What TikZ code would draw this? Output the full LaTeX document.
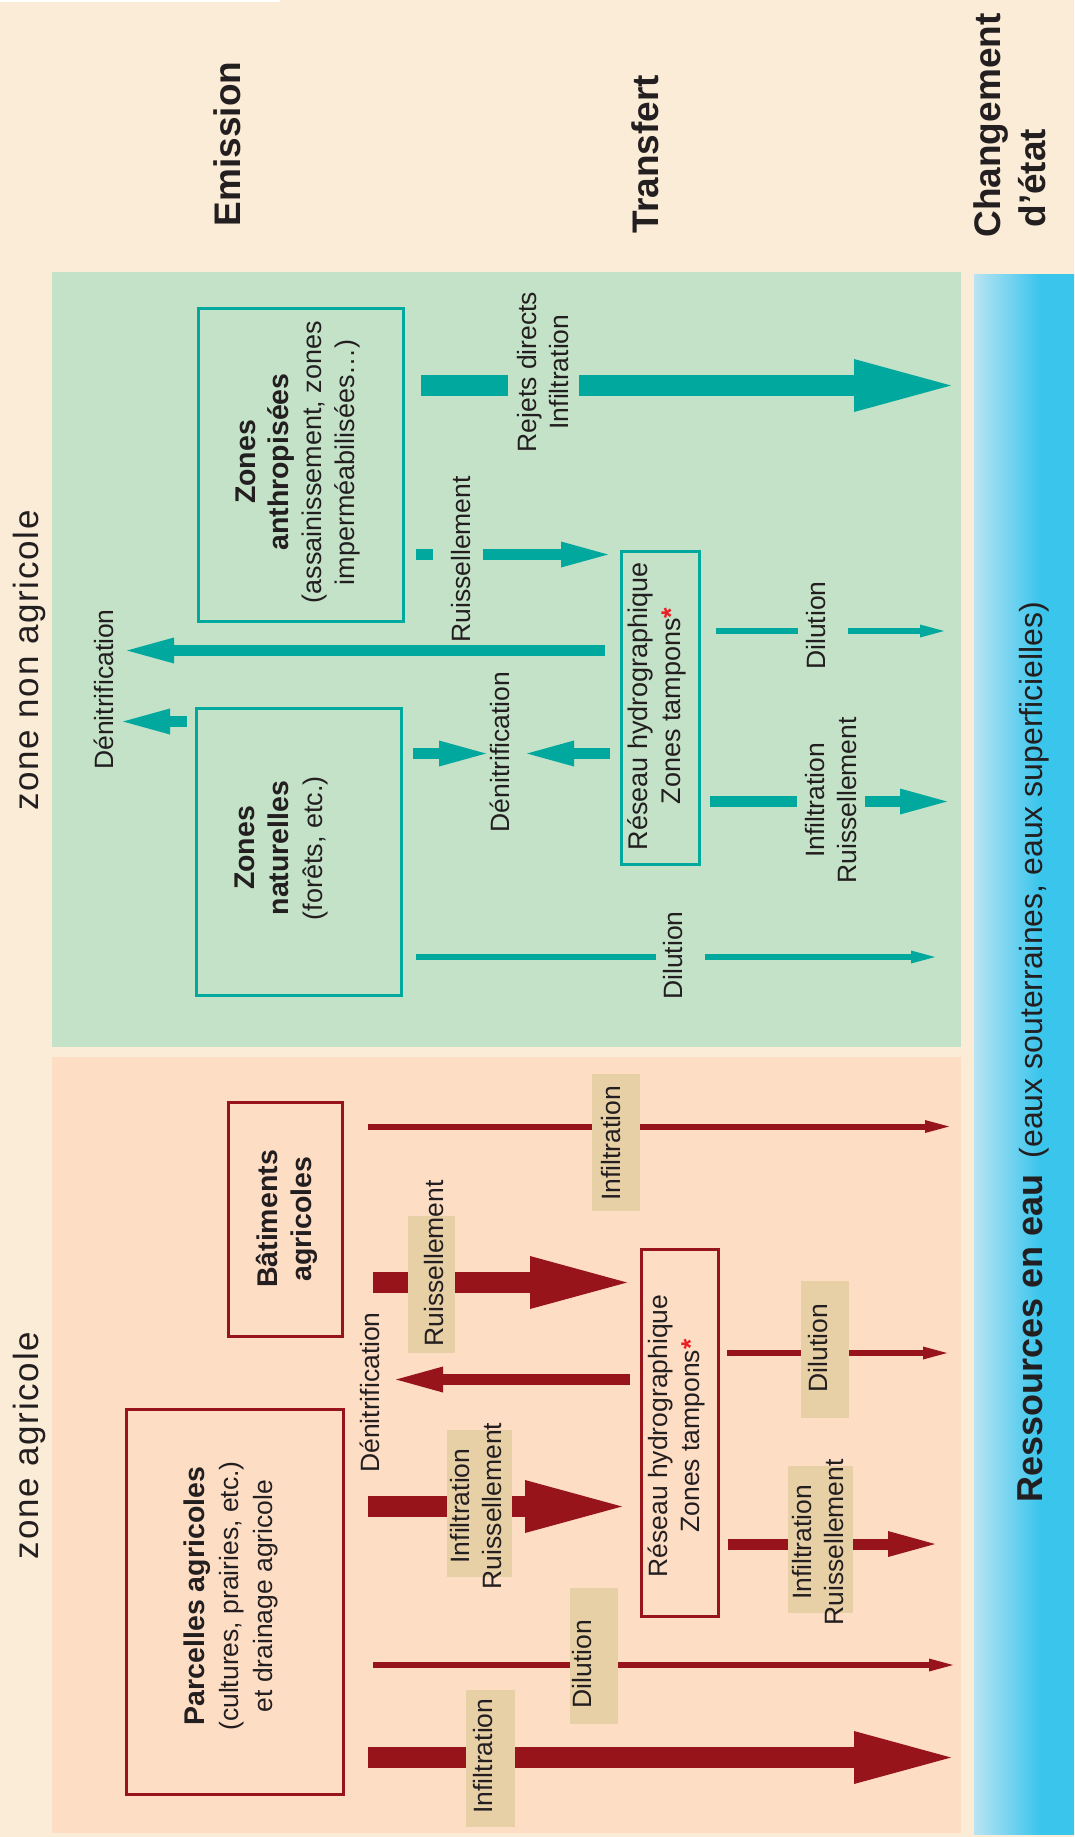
\documentclass[tikz,border=0pt]{standalone}
\usepackage{fontspec}
\setmainfont{Liberation Sans}
\newfontfamily\zonefont[LetterSpace=5]{Liberation Sans}
\usetikzlibrary{arrows.meta,calc}

\definecolor{cream}{RGB}{250,236,214}
\definecolor{greenbg}{RGB}{196,226,200}
\definecolor{pinkbg}{RGB}{254,221,197}
\definecolor{tealc}{RGB}{0,168,157}
\definecolor{redc}{RGB}{150,20,26}
\definecolor{tanc}{RGB}{232,208,166}
\definecolor{ink}{RGB}{35,31,32}
\definecolor{starred}{RGB}{237,28,36}
\definecolor{bandA}{RGB}{250,252,252}
\definecolor{bandB}{RGB}{185,228,242}
\definecolor{bandC}{RGB}{58,197,237}
\pgfdeclarehorizontalshading{bandshade}{100bp}{color(0bp)=(bandA); color(25bp)=(bandB); color(58bp)=(bandC); color(100bp)=(bandC)}

\newcommand\bx[1]{{\fontsize{28.5}{33}\selectfont\bfseries #1}}
\newcommand\redstar{{\color{starred}\bfseries*}}

\begin{document}
\begin{tikzpicture}[x=1pt,y=-1pt,
  lbl/.style={rotate=90, font=\fontsize{26.5}{32}\selectfont, text=ink, inner sep=0pt, align=center},
  hdr/.style={rotate=90, font=\bfseries\fontsize{37}{45}\selectfont, text=ink, inner sep=0pt},
  zonelbl/.style={rotate=90, inner sep=0pt, text=ink, font=\zonefont\fontsize{35}{40}\selectfont},
  box/.style={rectangle, line width=3pt, inner sep=0pt},
  tanbox/.style={rectangle, fill=tanc, inner sep=0pt},
  flowfat/.style={line width=21pt, -{Triangle[length=97pt, width=53pt, line width=0pt]}},
  flowmid/.style={line width=11pt, -{Triangle[length=47pt, width=26pt, line width=0pt]}},
  flowthin/.style={line width=6pt, -{Triangle[length=24pt, width=13pt, line width=0pt]}}]

\useasboundingbox (0,0) rectangle (1074,1837);

% background, panels and water band
\fill[cream] (0,0) rectangle (1074,1837);
\fill[white] (0,0) rectangle (280,1.5);
\fill[greenbg] (52,272) rectangle (961,1047);
\fill[pinkbg] (52,1057) rectangle (961,1833);
\shade[shading=bandshade] (974,274) rectangle (1074,1834);

% column headers
\node[hdr] (hEmi) at (227,144) {Emission};
\node[hdr] (hTra) at (645,154) {Transfert};
\node[hdr, align=left] (hChg) at (1010,125.5) {Changement\\\hspace*{10pt}d’état};

% zone titles
\node[zonelbl] (zNon) at (29.4,660.5) {zone non agricole};
\node[zonelbl] (zAgr) at (29.4,1445.5) {zone agricole};

% water resources
\node[rotate=90, inner sep=0pt, text=ink, font=\fontsize{32}{40}\selectfont] (water) at (1033.5,1052)
  {{\fontsize{36}{40}\selectfont\bfseries Ressources en eau}\hspace{0.5em}(eaux souterraines, eaux superficielles)};

% source boxes
\node[box, draw=tealc, minimum width=205pt, minimum height=313pt] (anthro) at (301,465) {};
\node[box, draw=tealc, minimum width=205pt, minimum height=287pt] (nat) at (299,852) {};
\node[box, draw=tealc, minimum width=78pt, minimum height=313pt] (resG) at (660.5,708) {};
\node[box, draw=redc, minimum width=114pt, minimum height=234pt] (bat) at (285.5,1219.5) {};
\node[box, draw=redc, minimum width=217pt, minimum height=385pt] (parc) at (235,1602) {};
\node[box, draw=redc, minimum width=77pt, minimum height=367pt] (resR) at (680,1433) {};

% arrow ends and rows
\coordinate (tRej) at (951,385.5);
\coordinate (yRuG) at (0,554.5);
\coordinate (tDilG1) at (944,631);
\coordinate (tDenL) at (127,650.5);
\coordinate (tDenS) at (123,721.5);
\coordinate (tDenM1) at (486,753.5);
\coordinate (tDenM2) at (527,753.5);
\coordinate (tIRG) at (947,801.5);
\coordinate (tDilG2) at (935,957);
\coordinate (tInfB) at (949,1126.5);
\coordinate (yRuB) at (0,1282.5);
\coordinate (tDilR) at (947,1353);
\coordinate (tDenR) at (396,1379.5);
\coordinate (yIRP) at (0,1506.5);
\coordinate (tIRR) at (935,1544);
\coordinate (tDilP) at (953,1665);
\coordinate (tInfP) at (951,1757.5);

% flows, non-agricultural zone
\draw[flowfat, color=tealc] ($(anthro.east |- tRej)+(16,0)$) -- (tRej);
\draw[flowmid, color=tealc] ($(anthro.east |- yRuG)+(11,0)$) -- ($(resG.west |- yRuG)+(-12,0)$);
\draw[flowthin, color=tealc] ($(resG.east |- tDilG1)+(15,0)$) -- (tDilG1);
\draw[flowmid, color=tealc] ($(resG.west |- tDenL)+(-15,0)$) -- (tDenL);
\draw[flowmid, color=tealc] ($(nat.west |- tDenS)+(-8,0)$) -- (tDenS);
\draw[flowmid, color=tealc] ($(nat.east |- tDenM1)+(10,0)$) -- (tDenM1);
\draw[flowmid, color=tealc] ($(resG.west |- tDenM2)+(-10,0)$) -- (tDenM2);
\draw[flowmid, color=tealc] ($(resG.east |- tIRG)+(9,0)$) -- (tIRG);
\draw[flowthin, color=tealc] ($(nat.east |- tDilG2)+(13,0)$) -- (tDilG2);

% flows, agricultural zone
\draw[flowthin, color=redc] ($(bat.east |- tInfB)+(24,0)$) -- (tInfB);
\draw[flowfat, color=redc] ($(bat.east |- yRuB)+(29,0)$) -- ($(resR.west |- yRuB)+(-13,0)$);
\draw[flowthin, color=redc] ($(resR.east |- tDilR)+(7,0)$) -- (tDilR);
\draw[flowmid, color=redc] ($(resR.west |- tDenR)+(-10,0)$) -- (tDenR);
\draw[flowfat, color=redc] ($(parc.east |- yIRP)+(23,0)$) -- ($(resR.west |- yIRP)+(-18,0)$);
\draw[flowmid, color=redc] ($(resR.east |- tIRR)+(8,0)$) -- (tIRR);
\draw[flowthin, color=redc] ($(parc.east |- tDilP)+(28,0)$) -- (tDilP);
\draw[flowfat, color=redc] ($(parc.east |- tInfP)+(23,0)$) -- (tInfP);

% label plates, agricultural zone
\node[tanbox, minimum width=48pt, minimum height=137pt] (tb1) at (616,1142.5) {};
\node[tanbox, minimum width=47pt, minimum height=137pt] (tb2) at (431.5,1284.5) {};
\node[tanbox, minimum width=48pt, minimum height=137pt] (tb3) at (825,1349.5) {};
\node[tanbox, minimum width=65pt, minimum height=147pt] (tb4) at (479.5,1503.5) {};
\node[tanbox, minimum width=65pt, minimum height=147pt] (tb5) at (820.5,1539.5) {};
\node[tanbox, minimum width=48pt, minimum height=136pt] (tb6) at (594,1656) {};
\node[tanbox, minimum width=49pt, minimum height=137pt] (tb7) at (490.5,1758.5) {};

% box texts
\node[lbl, font=\fontsize{27}{33}\selectfont] (anthroTxt) at (298,462)
  {\bx{Zones}\\\bx{anthropisées}\\(assainissement, zones\\imperméabilisées…)};
\node[lbl, font=\fontsize{27}{34}\selectfont] (natTxt) at (281,848)
  {\bx{Zones}\\\bx{naturelles}\\(forêts, etc.)};
\node[lbl, font=\fontsize{27}{33}\selectfont] (resGTxt) at (657,706) {Réseau hydrographique\\Zones tampons\redstar};
\node[lbl, font=\fontsize{27}{34}\selectfont] (batTxt) at (286.5,1219) {\bx{Bâtiments}\\\bx{agricoles}};
\node[lbl, font=\fontsize{26.5}{34}\selectfont] (parcTxt) at (231,1596)
  {\bx{Parcelles agricoles}\\(cultures, prairies, etc.)\\et drainage agricole};
\node[lbl, font=\fontsize{26.5}{32}\selectfont] (resRTxt) at (676.5,1436) {Réseau hydrographique\\Zones tampons\redstar};

% flow labels, non-agricultural zone
\node[lbl, fill=greenbg, minimum height=71pt] (lRej) at (543.5,372) {Rejets directs\\Infiltration};
\node[lbl, fill=greenbg, anchor=base, text height=37pt, text depth=13pt] (lRuG) at (470,559.5) {Ruissellement};
\node[lbl, fill=greenbg, anchor=base, text height=27pt, text depth=23pt] (lDilG1) at (825,625.5) {Dilution};
\node[lbl] (lDenL) at (104,689.5) {Dénitrification};
\node[lbl] (lDenM) at (500,752) {Dénitrification};
\node[lbl, fill=greenbg, minimum height=68pt] (lIRG) at (831,800.5) {Infiltration\\Ruissellement};
\node[lbl, fill=greenbg, anchor=base, text height=26pt, text depth=23pt] (lDilG2) at (682,955.5) {Dilution};

% flow labels, agricultural zone
\node[lbl] (lInfB) at (611,1143.5) {Infiltration};
\node[lbl] (lRuB) at (434,1263.5) {Ruissellement};
\node[lbl] (lDilR) at (818,1348) {Dilution};
\node[lbl] (lDenR) at (370,1392.5) {Dénitrification};
\node[lbl] (lIRP) at (476,1506) {Infiltration\\Ruissellement};
\node[lbl] (lIRR) at (818.5,1542.5) {Infiltration\\Ruissellement};
\node[lbl] (lDilP) at (582,1664) {Dilution};
\node[lbl] (lInfP) at (483,1756) {Infiltration};

\end{tikzpicture}
\end{document}
